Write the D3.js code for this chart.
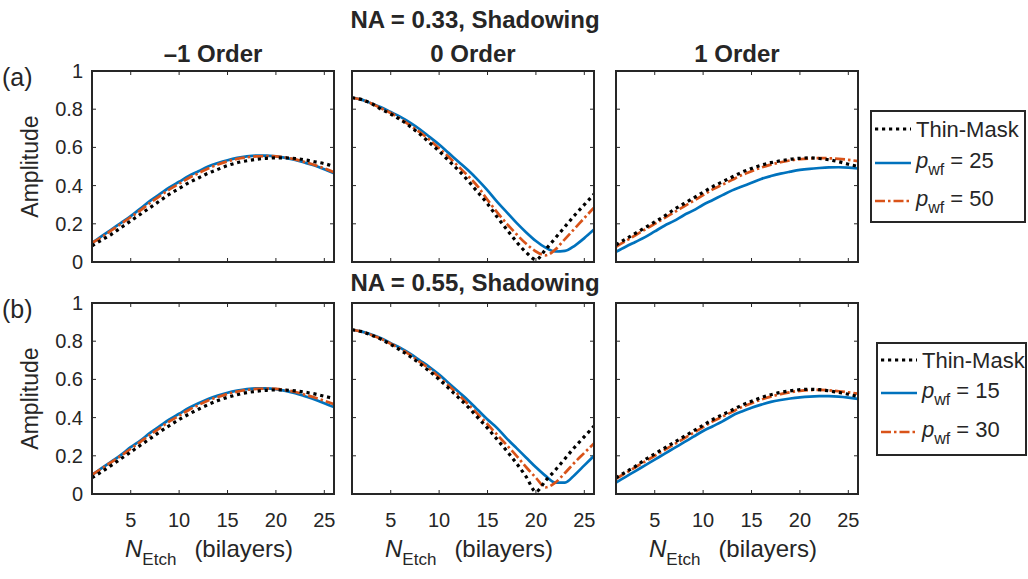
<!DOCTYPE html>
<html>
  <head>
    <meta charset="utf-8" />
    <title>Amplitude vs N Etch</title>
    <script src="https://d3js.org/d3.v7.min.js"></script>
    <style>
      body { margin: 0; background: #fff; }
      text { font-family: "Liberation Sans", Arial, sans-serif; fill: #262626; }
    </style>
  </head>

  <body>
    <svg id="viz"></svg>

    <script>
        // ---- data ----
        var nEtch = [1,2,3,4,5,6,7,8,9,10,11,12,13,14,15,16,17,18,19,20,21,22,23,24,25,26];
        var xTicks = [5, 10, 15, 20, 25];
        var yTicks = [0, 0.2, 0.4, 0.6, 0.8, 1];
        var yTickLabels = ["0", "0.2", "0.4", "0.6", "0.8", "1"];
        var orders = ["\u20131 Order", "0 Order", "1 Order"];
        var rowTitles = ["NA = 0.33, Shadowing", "NA = 0.55, Shadowing"];
        var rowTags = ["(a)", "(b)"];
        var pwfA = ["25", "50"];
        var pwfB = ["15", "30"];

        // row (a), NA = 0.33 : [-1 order, 0 order, 1 order]
        var thinA = [
            [0.085,0.115,0.145,0.18,0.215,0.25,0.285,0.32,0.355,0.385,0.415,0.44,0.465,0.485,0.505,0.52,0.53,0.538,0.543,0.545,0.545,0.542,0.535,0.525,0.515,0.50],
            [0.86,0.85,0.83,0.80,0.775,0.745,0.71,0.67,0.625,0.58,0.53,0.48,0.425,0.365,0.305,0.235,0.17,0.105,0.05,0.012,0.065,0.125,0.185,0.245,0.30,0.355],
            [0.09,0.12,0.15,0.18,0.21,0.24,0.275,0.305,0.335,0.365,0.395,0.42,0.445,0.47,0.49,0.507,0.52,0.53,0.538,0.543,0.545,0.542,0.535,0.525,0.512,0.50]
        ];
        var pwf25 = [
            [0.10,0.135,0.17,0.205,0.24,0.28,0.32,0.355,0.39,0.42,0.45,0.475,0.50,0.518,0.533,0.545,0.553,0.557,0.557,0.553,0.545,0.535,0.52,0.505,0.485,0.465],
            [0.86,0.85,0.83,0.81,0.785,0.76,0.73,0.695,0.655,0.615,0.57,0.525,0.48,0.43,0.375,0.315,0.26,0.205,0.155,0.11,0.075,0.055,0.058,0.085,0.125,0.17],
            [0.053,0.08,0.105,0.13,0.16,0.19,0.215,0.245,0.27,0.30,0.325,0.35,0.375,0.395,0.415,0.435,0.45,0.463,0.473,0.482,0.488,0.492,0.495,0.496,0.494,0.49]
        ];
        var pwf50 = [
            [0.10,0.13,0.165,0.20,0.235,0.27,0.31,0.345,0.38,0.41,0.44,0.465,0.49,0.51,0.527,0.54,0.548,0.553,0.555,0.553,0.547,0.537,0.523,0.508,0.49,0.47],
            [0.86,0.85,0.83,0.805,0.78,0.75,0.715,0.68,0.64,0.595,0.55,0.50,0.45,0.395,0.325,0.26,0.20,0.145,0.095,0.055,0.035,0.065,0.12,0.175,0.23,0.285],
            [0.08,0.11,0.14,0.17,0.20,0.23,0.26,0.29,0.32,0.35,0.38,0.405,0.43,0.455,0.475,0.495,0.51,0.522,0.532,0.538,0.542,0.544,0.543,0.54,0.535,0.528]
        ];

        // row (b), NA = 0.55
        var thinB = [
            [0.085,0.117,0.15,0.185,0.22,0.255,0.29,0.325,0.358,0.39,0.418,0.444,0.468,0.489,0.506,0.52,0.531,0.538,0.543,0.545,0.544,0.54,0.533,0.524,0.512,0.50],
            [0.86,0.85,0.832,0.81,0.783,0.753,0.72,0.683,0.643,0.60,0.553,0.505,0.455,0.40,0.345,0.285,0.225,0.16,0.09,0.012,0.07,0.125,0.185,0.245,0.30,0.355],
            [0.085,0.115,0.145,0.18,0.21,0.24,0.27,0.30,0.33,0.36,0.39,0.415,0.44,0.465,0.485,0.505,0.52,0.532,0.54,0.546,0.548,0.546,0.54,0.532,0.522,0.51]
        ];
        var pwf15 = [
            [0.10,0.135,0.17,0.205,0.245,0.28,0.32,0.355,0.39,0.42,0.45,0.475,0.497,0.515,0.53,0.541,0.549,0.553,0.553,0.549,0.54,0.528,0.512,0.495,0.475,0.455],
            [0.86,0.85,0.835,0.815,0.79,0.765,0.735,0.70,0.665,0.625,0.58,0.535,0.49,0.44,0.39,0.345,0.29,0.24,0.19,0.14,0.095,0.06,0.06,0.10,0.15,0.20],
            [0.06,0.09,0.12,0.15,0.18,0.21,0.24,0.27,0.30,0.33,0.355,0.38,0.41,0.432,0.452,0.468,0.482,0.492,0.50,0.506,0.51,0.512,0.512,0.51,0.505,0.498]
        ];
        var pwf30 = [
            [0.10,0.133,0.167,0.20,0.237,0.273,0.31,0.345,0.38,0.41,0.44,0.466,0.49,0.508,0.524,0.536,0.545,0.55,0.552,0.55,0.544,0.534,0.52,0.505,0.488,0.47],
            [0.86,0.85,0.833,0.812,0.787,0.76,0.728,0.692,0.655,0.612,0.567,0.52,0.47,0.418,0.365,0.31,0.255,0.20,0.14,0.085,0.035,0.06,0.11,0.165,0.215,0.265],
            [0.08,0.11,0.14,0.17,0.20,0.23,0.26,0.29,0.32,0.35,0.38,0.405,0.43,0.455,0.475,0.495,0.51,0.523,0.533,0.54,0.544,0.545,0.543,0.538,0.532,0.525]
        ];

        // ---- layout ----
        var width = 1028, height = 579;
        var colLeft = [92, 352, 616];
        var rowTop = [71, 303];
        var pw = 242, ph = 191;

        var blue = "#0072BD", orange = "#D95319", frame = "#262626";
        var styles = [
            {color: "#000", width: 3.2, dash: "3.2,3.8"},
            {color: blue, width: 2.7, dash: null},
            {color: orange, width: 2.7, dash: "10,3,2.5,3"}
        ];

        var svg = d3.select("#viz")
            .attr("width", width)
            .attr("height", height);

        var rows = [
            {thin: thinA, s1: pwf25, s2: pwf50, labels: pwfA, legend: {x: 871, y: 111, w: 154, h: 111, offs: [18, 52, 90]}},
            {thin: thinB, s1: pwf15, s2: pwf30, labels: pwfB, legend: {x: 877, y: 343, w: 149, h: 112, offs: [17, 50, 89]}}
        ];

        rows.forEach(function(row, r) {
            var top = rowTop[r];

            svg.append("text")
                .attr("x", 475).attr("y", r === 0 ? 28 : 291)
                .attr("text-anchor", "middle")
                .attr("font-size", 24).attr("font-weight", "bold")
                .text(rowTitles[r]);

            svg.append("text")
                .attr("x", 2).attr("y", top + 15)
                .attr("font-size", 25)
                .text(rowTags[r]);

            svg.append("text")
                .attr("transform", "translate(38," + (top + ph / 2) + ") rotate(-90)")
                .attr("text-anchor", "middle")
                .attr("font-size", 23)
                .text("Amplitude");

            for (var c = 0; c < 3; c++) {
                var left = colLeft[c];
                var x = d3.scaleLinear().domain([1, 26]).range([left, left + pw]);
                var y = d3.scaleLinear().domain([0, 1]).range([top + ph, top]);

                var g = svg.append("g");
                var clipId = "clip" + r + c;
                g.append("clipPath").attr("id", clipId)
                    .append("rect")
                    .attr("x", left).attr("y", top)
                    .attr("width", pw).attr("height", ph);

                if (r === 0) {
                    svg.append("text")
                        .attr("x", left + pw / 2).attr("y", 62)
                        .attr("text-anchor", "middle")
                        .attr("font-size", 24).attr("font-weight", "bold")
                        .text(orders[c]);
                }

                // ticks, inside the box on all four sides
                g.selectAll(".xt").data(xTicks).enter().append("path")
                    .attr("d", function(d) {
                        return "M" + x(d) + "," + (top + ph) + "v-4M" + x(d) + "," + top + "v4";
                    })
                    .attr("stroke", frame).attr("stroke-width", 1);
                g.selectAll(".yt").data(yTicks).enter().append("path")
                    .attr("d", function(d) {
                        return "M" + left + "," + y(d) + "h4M" + (left + pw) + "," + y(d) + "h-4";
                    })
                    .attr("stroke", frame).attr("stroke-width", 1);

                if (c === 0) {
                    g.selectAll(".yl").data(yTicks).enter().append("text")
                        .attr("x", left - 9)
                        .attr("y", function(d) { return y(d) + 7; })
                        .attr("text-anchor", "end")
                        .attr("font-size", 20)
                        .text(function(d, i) { return yTickLabels[i]; });
                }

                if (r === 1) {
                    g.selectAll(".xl").data(xTicks).enter().append("text")
                        .attr("x", function(d) { return x(d); })
                        .attr("y", top + ph + 33)
                        .attr("text-anchor", "middle")
                        .attr("font-size", 20)
                        .text(function(d) { return d; });

                    var lab = g.append("text")
                        .attr("x", left + pw / 2 - 88)
                        .attr("y", top + ph + 63)
                        .attr("font-size", 24);
                    lab.append("tspan").attr("font-style", "italic").text("N");
                    lab.append("tspan").attr("font-size", 17).attr("dy", 8).text("Etch");
                    lab.append("tspan").attr("dy", -8).attr("dx", 18).text("(bilayers)");
                }

                var line = d3.line()
                    .x(function(d, i) { return x(nEtch[i]); })
                    .y(function(d) { return y(d); })
                    .curve(d3.curveMonotoneX);

                var series = [row.thin[c], row.s1[c], row.s2[c]];
                var order = [1, 2, 0];
                order.forEach(function(k) {
                    g.append("path")
                        .attr("clip-path", "url(#" + clipId + ")")
                        .attr("d", line(series[k]))
                        .attr("fill", "none")
                        .attr("stroke", styles[k].color)
                        .attr("stroke-width", styles[k].width)
                        .attr("stroke-dasharray", styles[k].dash);
                });

                g.append("rect")
                    .attr("x", left).attr("y", top)
                    .attr("width", pw).attr("height", ph)
                    .attr("fill", "none")
                    .attr("stroke", frame).attr("stroke-width", 2);
            }

            // legend
            var L = row.legend;
            var lg = svg.append("g");
            lg.append("rect")
                .attr("x", L.x).attr("y", L.y)
                .attr("width", L.w).attr("height", L.h)
                .attr("fill", "#fff")
                .attr("stroke", frame).attr("stroke-width", 2);
            for (var k = 0; k < 3; k++) {
                var ly = L.y + L.offs[k];
                lg.append("line")
                    .attr("x1", L.x + 4).attr("x2", L.x + 40)
                    .attr("y1", ly).attr("y2", ly)
                    .attr("stroke", styles[k].color)
                    .attr("stroke-width", styles[k].width)
                    .attr("stroke-dasharray", styles[k].dash);
                var t = lg.append("text")
                    .attr("x", L.x + 45)
                    .attr("y", ly + (k === 0 ? 8 : 5))
                    .attr("font-size", 22);
                if (k === 0) {
                    t.text("Thin-Mask");
                } else {
                    t.append("tspan").attr("font-style", "italic").text("p");
                    t.append("tspan").attr("font-size", 16).attr("dy", 7).text("wf");
                    t.append("tspan").attr("dy", -7).text(" = " + row.labels[k - 1]);
                }
            }
        });
    </script>
  </body>
</html>
